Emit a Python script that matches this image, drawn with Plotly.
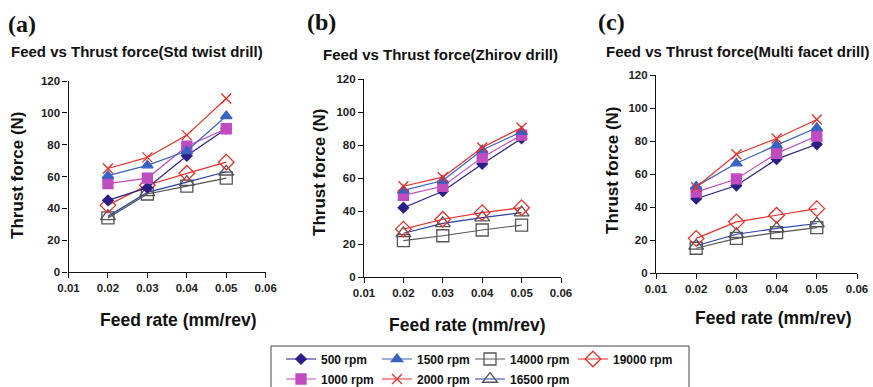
import plotly.graph_objects as go

feed = [0.02, 0.03, 0.04, 0.05]
speeds = ["500 rpm", "1000 rpm", "1500 rpm", "2000 rpm", "14000 rpm", "16500 rpm", "19000 rpm"]

std_twist = {
    "500 rpm": [45, 53, 73, 90],
    "1000 rpm": [55.5, 59, 79, 90],
    "1500 rpm": [60.5, 67, 76, 98],
    "2000 rpm": [65, 72, 86, 109],
    "14000 rpm": [34, 49, 54, 59],
    "16500 rpm": [35, 50, 56.5, 63],
    "19000 rpm": [42, 54.5, 62, 69],
}
zhirov = {
    "500 rpm": [42, 52, 68.5, 84],
    "1000 rpm": [49.5, 55, 72.5, 86],
    "1500 rpm": [52.5, 58.5, 77, 88],
    "2000 rpm": [55, 60.5, 78.5, 90.5],
    "14000 rpm": [22, 25, 28.5, 31.5],
    "16500 rpm": [26.5, 32.5, 36, 39],
    "19000 rpm": [29, 35, 39, 42],
}
multi_facet = {
    "500 rpm": [45, 53, 69, 78],
    "1000 rpm": [49, 57, 72.5, 83],
    "1500 rpm": [52.5, 66.5, 77.5, 88],
    "2000 rpm": [52, 72, 81.5, 93],
    "14000 rpm": [15, 21, 24.5, 27.5],
    "16500 rpm": [16.5, 23.5, 27, 30],
    "19000 rpm": [21, 31, 35, 39],
}
panels = [std_twist, zhirov, multi_facet]
panel_labels = ["(a)", "(b)", "(c)"]
panel_titles = ["Feed vs Thrust force(Std twist drill)",
                "Feed vs Thrust force(Zhirov drill)",
                "Feed vs Thrust force(Multi facet drill)"]
x_ticks = [0.01, 0.02, 0.03, 0.04, 0.05, 0.06]
y_ticks = [0, 20, 40, 60, 80, 100, 120]

W, H = 873, 387
styles = {
    "500 rpm": dict(line="#2B1F87", symbol="diamond", mcolor="#2B1F87", size=8),
    "1500 rpm": dict(line="#3A62C0", symbol="triangle-up", mcolor="#3A62C0", size=10),
    "14000 rpm": dict(line="#555555", symbol="square-open", mcolor="#555555", size=12),
    "19000 rpm": dict(line="#E8302A", symbol="diamond-open", mcolor="#E8302A", size=12),
    "1000 rpm": dict(line="#C04CC0", symbol="square", mcolor="#C04CC0", size=10),
    "2000 rpm": dict(line="#E8302A", symbol="x-thin-open", mcolor="#E8302A", size=10),
    "16500 rpm": dict(line="#2840A8", symbol="triangle-up-open", mcolor="#555555", size=13),
}
# legend slot for each series: (legend id, left px, row centre px)
legend_slots = {
    "500 rpm": ("legend", 281, 359),
    "1500 rpm": ("legend2", 377, 359),
    "14000 rpm": ("legend3", 470, 359),
    "19000 rpm": ("legend4", 573, 359),
    "1000 rpm": ("legend5", 281, 379),
    "2000 rpm": ("legend6", 377, 379),
    "16500 rpm": ("legend7", 470, 379),
}
draw_order = ["14000 rpm", "16500 rpm", "19000 rpm", "500 rpm", "1000 rpm", "1500 rpm", "2000 rpm"]

# plot areas in pixels: (x0, x1, ytop, ybottom)
areas = [(68.5, 265.7, 81, 272), (364, 561, 79, 277), (656, 857, 75, 273)]

fig = go.Figure()
font_b = "Liberation Sans, Arial, sans-serif"

for i, data in enumerate(panels):
    xa = "x" if i == 0 else f"x{i+1}"
    ya = "y" if i == 0 else f"y{i+1}"
    for name in draw_order:
        s = styles[name]
        fig.add_trace(go.Scatter(
            x=feed, y=data[name], name=f"<b>{name}</b>", mode="lines+markers",
            xaxis=xa, yaxis=ya,
            line=dict(color=s["line"], width=1.2),
            marker=dict(symbol=s["symbol"], size=s["size"], color=s["mcolor"],
                        line=dict(color=s["mcolor"], width=1.3)),
            showlegend=(i == 0), legend=legend_slots[name][0],
        ))

layout = dict(width=W, height=H, margin=dict(l=0, r=0, t=0, b=0, autoexpand=False),
              paper_bgcolor="white", plot_bgcolor="white", font=dict(family=font_b, color="#222"))
for i, (x0, x1, yt, yb) in enumerate(areas):
    kx = "xaxis" if i == 0 else f"xaxis{i+1}"
    ky = "yaxis" if i == 0 else f"yaxis{i+1}"
    ya = "y" if i == 0 else f"y{i+1}"
    xa = "x" if i == 0 else f"x{i+1}"
    layout[kx] = dict(domain=[x0 / W, x1 / W], anchor=ya, range=[0.01, 0.06],
                      tickvals=x_ticks, ticktext=[f"<b>{v:.2f}</b>" for v in x_ticks],
                      showgrid=False, zeroline=False, showline=True, linecolor="#111", linewidth=1.2,
                      ticks="outside", ticklen=5, tickcolor="#111", automargin=False,
                      tickfont=dict(size=11.5, family=font_b, color="#222"))
    layout[ky] = dict(domain=[1 - yb / H, 1 - yt / H], anchor=xa, range=[0, 120],
                      tickvals=y_ticks, ticktext=[f"<b>{v}</b>" for v in y_ticks],
                      showgrid=False, zeroline=False, showline=True, linecolor="#111", linewidth=1.2,
                      ticks="outside", ticklen=5, tickcolor="#111", automargin=False,
                      tickfont=dict(size=11.5, family=font_b, color="#222"))
for name, (lid, lx, ly) in legend_slots.items():
    layout[lid] = dict(orientation="h", xanchor="left", yanchor="middle", bgcolor="rgba(0,0,0,0)",
                       borderwidth=0, itemwidth=30, x=lx / W, y=1 - ly / H,
                       font=dict(family=font_b, size=12, color="#111"))
fig.update_layout(**layout)

ann = []
label_pos = [(22, 24), (321, 22), (611, 22)]
title_pos = [(136.5, 52), (440, 54), (737.5, 52)]
ytitle_pos = [(17, 175), (319, 172), (612, 170)]
xtitle_pos = [(178.5, 320), (467.5, 325), (773, 318)]
common = dict(xref="paper", yref="paper", showarrow=False, xanchor="center", yanchor="middle")
for i in range(3):
    ann.append(dict(text=f"<b>{panel_labels[i]}</b>", x=label_pos[i][0] / W, y=1 - label_pos[i][1] / H,
                    font=dict(family="Liberation Serif, Times New Roman, serif", size=24, color="#111"), **common))
    ann.append(dict(text=f"<b>{panel_titles[i]}</b>", x=title_pos[i][0] / W, y=1 - title_pos[i][1] / H,
                    font=dict(family=font_b, size=15, color="#111"), **common))
    ann.append(dict(text="<b>Thrust force (N)</b>", x=ytitle_pos[i][0] / W, y=1 - ytitle_pos[i][1] / H,
                    textangle=-90, font=dict(family=font_b, size=17, color="#111"), **common))
    ann.append(dict(text="<b>Feed rate (mm/rev)</b>", x=xtitle_pos[i][0] / W, y=1 - xtitle_pos[i][1] / H,
                    font=dict(family=font_b, size=17.5, color="#111"), **common))
fig.update_layout(annotations=ann)

fig.add_shape(type="rect", xref="paper", yref="paper",
              x0=271 / W, x1=689 / W, y0=-0.05, y1=1 - 346 / H,
              line=dict(color="#444", width=1), fillcolor="rgba(0,0,0,0)")

fig.write_html("out.html", config={"displayModeBar": False},
               post_script="document.body.style.margin='0';document.body.style.padding='0';")
